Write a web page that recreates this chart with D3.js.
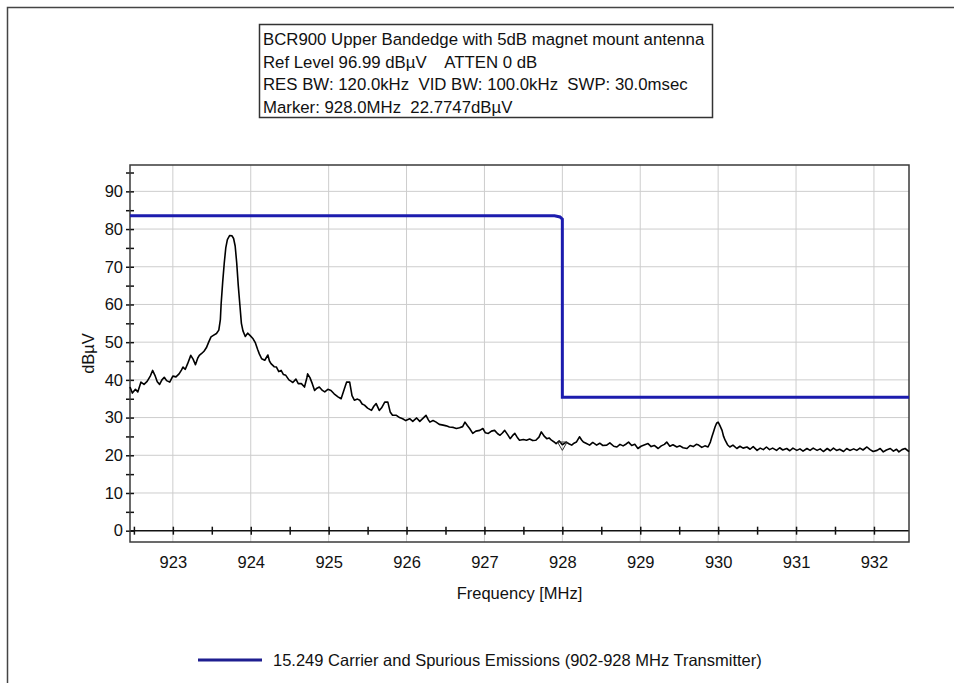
<!DOCTYPE html>
<html>
<head>
<meta charset="utf-8">
<script src="https://cdn.jsdelivr.net/npm/d3@7"></script>
<style>
  body { margin: 0; background: #fff; }
  svg { display: block; font-family: "Liberation Sans", Arial, sans-serif; }
</style>
</head>
<body>
<div id="chart"></div>
<script>
// title box lines
const titleLines = [
    'BCR900 Upper Bandedge with 5dB magnet mount antenna',
    'Ref Level 96.99 dB\u00b5V    ATTEN 0 dB',
    'RES BW: 120.0kHz  VID BW: 100.0kHz  SWP: 30.0msec',
    'Marker: 928.0MHz  22.7747dB\u00b5V'
];

const legendLabel = '15.249 Carrier and Spurious Emissions (902-928 MHz Transmitter)';

// axis ranges / ticks
const freqRange = [922.45, 932.45];
const levelRange = [-3, 96.99];
const xMajorTicks = [923, 924, 925, 926, 927, 928, 929, 930, 931, 932];
const xMinorTicks = [922.5, 923.5, 924.5, 925.5, 926.5, 927.5, 928.5, 929.5, 930.5, 931.5];
const yMajorTicks = [0, 10, 20, 30, 40, 50, 60, 70, 80, 90];
const yMinorTicks = [5, 15, 25, 35, 45, 55, 65, 75, 85, 95];

// limit line (15.249)
const limitFreq = [922.45, 927.9, 927.97, 928.0, 928.0, 932.45];
const limitLevel = [83.5, 83.5, 83.2, 82.6, 35.4, 35.4];

// marker
const markerFreq = 928.0;
const markerLevel = 22.7747;

// measured trace
const freqMHz = [
    922.45, 922.48, 922.52, 922.55, 922.59, 922.63, 922.67, 922.71, 922.74, 922.77,
    922.80, 922.83, 922.86, 922.89, 922.92, 922.96, 923.00, 923.04, 923.08, 923.11,
    923.13, 923.16, 923.19, 923.23, 923.26, 923.29, 923.32, 923.34, 923.37, 923.40,
    923.43, 923.46, 923.49, 923.52, 923.56, 923.59, 923.61, 923.62, 923.64, 923.66,
    923.68, 923.70, 923.73, 923.76, 923.78, 923.80, 923.82, 923.84, 923.86, 923.88,
    923.90, 923.93, 923.96, 923.99, 924.03, 924.06, 924.09, 924.11, 924.14, 924.18,
    924.22, 924.24, 924.26, 924.30, 924.33, 924.36, 924.39, 924.42, 924.45, 924.49,
    924.52, 924.54, 924.58, 924.61, 924.65, 924.69, 924.72, 924.73, 924.76, 924.79,
    924.82, 924.85, 924.88, 924.92, 924.95, 924.99, 925.03, 925.07, 925.12, 925.16,
    925.20, 925.23, 925.27, 925.30, 925.33, 925.37, 925.40, 925.43, 925.46, 925.50,
    925.55, 925.58, 925.61, 925.65, 925.68, 925.72, 925.76, 925.79, 925.82, 925.87,
    925.91, 925.95, 925.99, 926.04, 926.08, 926.13, 926.17, 926.21, 926.25, 926.28,
    926.30, 926.34, 926.38, 926.42, 926.47, 926.51, 926.55, 926.60, 926.64, 926.68,
    926.72, 926.75, 926.78, 926.81, 926.85, 926.89, 926.94, 926.98, 927.01, 927.05,
    927.09, 927.13, 927.17, 927.20, 927.23, 927.26, 927.30, 927.33, 927.36, 927.39,
    927.42, 927.45, 927.50, 927.54, 927.58, 927.62, 927.66, 927.70, 927.73, 927.77,
    927.80, 927.83, 927.86, 927.89, 927.92, 927.96, 928.00, 928.05, 928.09, 928.12,
    928.15, 928.18, 928.22, 928.25, 928.27, 928.31, 928.35, 928.39, 928.44, 928.48,
    928.52, 928.57, 928.61, 928.66, 928.70, 928.74, 928.78, 928.82, 928.85, 928.89,
    928.93, 928.97, 929.01, 929.05, 929.10, 929.14, 929.18, 929.23, 929.27, 929.31,
    929.34, 929.38, 929.42, 929.47, 929.51, 929.55, 929.60, 929.64, 929.68, 929.72,
    929.75, 929.79, 929.83, 929.87, 929.90, 929.92, 929.94, 929.96, 929.98, 930.00,
    930.02, 930.05, 930.07, 930.09, 930.12, 930.15, 930.19, 930.24, 930.28, 930.32,
    930.37, 930.41, 930.45, 930.50, 930.54, 930.58, 930.62, 930.66, 930.70, 930.75,
    930.79, 930.83, 930.88, 930.92, 930.96, 931.01, 931.05, 931.09, 931.14, 931.18,
    931.22, 931.27, 931.31, 931.35, 931.40, 931.44, 931.48, 931.52, 931.56, 931.61,
    931.65, 931.69, 931.74, 931.78, 931.82, 931.86, 931.91, 931.95, 931.99, 932.04,
    932.08, 932.12, 932.16, 932.21, 932.25, 932.29, 932.32, 932.36, 932.40, 932.45
];
const levelDbuV = [
    38.1, 36.5, 37.5, 36.8, 39.4, 38.8, 39.6, 41.0, 42.5, 41.2,
    39.5, 38.8, 40.0, 40.7, 39.8, 39.4, 41.0, 40.8, 41.6, 42.6,
    43.4, 42.8, 44.3, 46.5, 45.5, 44.0, 45.8, 46.5, 47.0, 47.6,
    48.5, 50.0, 51.4, 51.8, 52.3, 53.2, 56.0, 60.2, 66.0, 71.0,
    75.1, 77.2, 78.3, 78.2, 77.5, 75.5, 71.0, 65.0, 60.0, 55.0,
    53.0, 51.5, 52.4, 51.8, 50.9, 49.8, 48.0, 46.9, 45.6, 45.2,
    46.6, 45.0, 44.3, 43.5, 43.4, 42.2, 42.5, 41.4, 41.2, 40.0,
    39.6, 39.3, 40.2, 39.0, 39.0, 38.1, 40.5, 41.6, 40.6, 39.0,
    37.2, 37.8, 38.1, 37.2, 36.8, 37.5, 37.2, 36.3, 35.5, 35.0,
    37.5, 39.4, 39.4, 35.8, 34.6, 34.9, 34.6, 33.6, 33.3, 32.5,
    31.9, 33.0, 33.7, 31.9, 32.6, 34.1, 34.1, 31.5, 30.6, 30.6,
    30.0, 29.7, 29.2, 29.7, 29.0, 29.9, 29.0, 29.8, 30.6, 29.4,
    28.8, 29.2, 28.8, 28.2, 28.0, 27.8, 27.5, 27.4, 27.1, 27.3,
    27.6, 28.8, 27.9, 27.1, 25.8, 26.4, 26.6, 27.1, 26.0, 25.8,
    26.4, 26.6, 25.7, 25.3, 25.9, 26.6, 25.4, 24.4, 25.2, 25.8,
    24.8, 24.0, 24.2, 24.0, 24.3, 23.9, 24.0, 24.8, 26.2, 25.0,
    24.4, 24.6, 24.0, 23.6, 23.1, 23.8, 22.8, 23.5, 23.0, 22.7,
    23.2, 23.5, 24.9, 24.0, 23.5, 23.1, 22.7, 23.4, 22.7, 23.2,
    22.6, 22.7, 23.3, 22.4, 22.2, 22.9, 22.5, 23.0, 23.5, 22.6,
    22.9, 21.8, 22.4, 22.7, 23.1, 22.3, 22.6, 21.8, 22.5, 22.9,
    23.5, 22.4, 22.8, 22.2, 22.5, 22.0, 21.8, 22.6, 22.3, 22.9,
    22.7, 22.1, 22.5, 22.2, 23.5, 24.9, 26.2, 27.5, 28.5, 28.8,
    28.0, 26.6, 25.0, 24.0, 22.8, 22.2, 22.7, 21.8, 22.4, 21.9,
    22.2, 21.6, 22.3, 21.3, 21.9, 21.5, 22.2, 21.5, 21.9, 21.3,
    22.0, 21.4, 21.8, 21.2, 21.9, 21.3, 21.7, 21.1, 21.8, 21.3,
    21.9, 21.3, 21.7, 21.0, 21.8, 21.2, 21.9, 21.3, 21.6, 21.0,
    21.8, 21.3, 21.7, 21.3, 21.9, 21.4, 22.2, 21.5, 21.0, 21.3,
    21.8, 20.9, 21.4, 21.8, 21.1, 21.6, 20.9, 21.5, 21.8, 21.0
];

const width = 954;
const height = 683;
const margin = { top: 165, right: 45, bottom: 141, left: 130 };

const limitColor = '#1c1cae';
const gridColor = '#cdcdcd';
const frameColor = '#3a3a3a';

const svg = d3.select('#chart').append('svg')
    .attr('width', width)
    .attr('height', height);

// outer frame of the window
svg.append('rect')
    .attr('x', 7.5).attr('y', 7.5)
    .attr('width', width + 20).attr('height', height + 20)
    .attr('fill', 'none')
    .attr('stroke', '#444')
    .attr('stroke-width', 1.5);

// title box
const titleBox = svg.append('g').attr('transform', 'translate(259.5, 24.5)');
titleBox.append('rect')
    .attr('width', 453).attr('height', 93)
    .attr('fill', '#fff')
    .attr('stroke', '#333')
    .attr('stroke-width', 1.5);
titleBox.selectAll('text')
    .data(titleLines)
    .join('text')
    .attr('x', 3.5)
    .attr('y', (d, i) => 20.5 + i * 22.6)
    .attr('font-size', 16.8)
    .attr('fill', '#111')
    .style('white-space', 'pre')
    .text(d => d);

const scaleX = d3.scaleLinear().domain(freqRange).range([margin.left, width - margin.right]);
const scaleY = d3.scaleLinear().domain(levelRange).range([height - margin.bottom, margin.top]);

// grid
const grid = svg.append('g').classed('grid', true);
grid.selectAll('line.v')
    .data(xMajorTicks)
    .join('line')
    .classed('v', true)
    .attr('x1', d => scaleX(d)).attr('x2', d => scaleX(d))
    .attr('y1', margin.top).attr('y2', height - margin.bottom)
    .attr('stroke', gridColor);
grid.selectAll('line.h')
    .data(yMajorTicks.filter(d => d > 0))
    .join('line')
    .classed('h', true)
    .attr('x1', margin.left).attr('x2', width - margin.right)
    .attr('y1', d => scaleY(d)).attr('y2', d => scaleY(d))
    .attr('stroke', gridColor);

// x axis sits on the 0 dBuV line, labels go below the frame
const y0 = scaleY(0);
const axisXGroup = svg.append('g')
    .classed('axis axisX', true)
    .attr('transform', `translate(0, ${y0})`);
axisXGroup.append('g').call(d3.axisBottom(scaleX).tickValues(xMajorTicks).tickSize(0).tickFormat(d3.format('d')));
axisXGroup.append('g').call(d3.axisBottom(scaleX).tickValues(xMinorTicks).tickSize(0).tickFormat(''));
axisXGroup.selectAll('.domain').remove();
axisXGroup.selectAll('.tick line').attr('y1', -4).attr('y2', 4).attr('stroke', '#111').attr('stroke-width', 1.5);
axisXGroup.selectAll('.tick text')
    .attr('y', (height - margin.bottom) - y0 + 14)
    .attr('font-size', 16.5)
    .attr('fill', '#111');
axisXGroup.append('line')
    .attr('x1', margin.left).attr('x2', width - margin.right)
    .attr('stroke', '#111').attr('stroke-width', 1.5);

const axisYGroup = svg.append('g')
    .classed('axis axisY', true)
    .attr('transform', `translate(${margin.left}, 0)`);
axisYGroup.append('g').call(d3.axisLeft(scaleY).tickValues(yMajorTicks).tickSize(0).tickPadding(7));
axisYGroup.append('g').call(d3.axisLeft(scaleY).tickValues(yMinorTicks).tickSize(0).tickFormat(''));
axisYGroup.selectAll('.domain').remove();
axisYGroup.selectAll('.tick line').attr('x1', -4).attr('x2', 4).attr('stroke', '#111').attr('stroke-width', 1.5);
axisYGroup.selectAll('.tick text')
    .attr('font-size', 16.5)
    .attr('fill', '#111');

// plot frame
svg.append('rect')
    .attr('x', margin.left).attr('y', margin.top)
    .attr('width', width - margin.left - margin.right)
    .attr('height', height - margin.top - margin.bottom)
    .attr('fill', 'none')
    .attr('stroke', frameColor)
    .attr('stroke-width', 1.5);

// axis titles
svg.append('text')
    .attr('x', (margin.left + width - margin.right) / 2)
    .attr('y', 599)
    .attr('text-anchor', 'middle')
    .attr('font-size', 16.5)
    .attr('fill', '#111')
    .text('Frequency [MHz]');
svg.append('text')
    .attr('transform', `translate(94, ${(margin.top + height - margin.bottom) / 2}) rotate(-90)`)
    .attr('text-anchor', 'middle')
    .attr('font-size', 16.5)
    .attr('fill', '#111')
    .text('dB\u00b5V');

// lines
const line = d3.line()
    .x(d => scaleX(d[0]))
    .y(d => scaleY(d[1]));

svg.append('path')
    .datum(d3.zip(limitFreq, limitLevel))
    .attr('d', line)
    .attr('fill', 'none')
    .attr('stroke', limitColor)
    .attr('stroke-width', 3);

svg.append('path')
    .datum(d3.zip(freqMHz, levelDbuV))
    .attr('d', line)
    .attr('fill', 'none')
    .attr('stroke', '#000')
    .attr('stroke-width', 1.6)
    .attr('stroke-linejoin', 'round');

// marker
svg.append('path')
    .attr('d', d3.symbol(d3.symbolTriangle, 40))
    .attr('transform', `translate(${scaleX(markerFreq)}, ${scaleY(markerLevel)}) rotate(180)`)
    .attr('fill', 'none')
    .attr('stroke', '#333')
    .attr('stroke-width', 1);

// legend
const legend = svg.append('g').attr('transform', 'translate(198, 660)');
legend.append('line')
    .attr('x1', 0).attr('x2', 64)
    .attr('stroke', '#1e1e90')
    .attr('stroke-width', 3);
legend.append('text')
    .attr('x', 75)
    .attr('y', 6)
    .attr('font-size', 16.5)
    .attr('fill', '#111')
    .text(legendLabel);
</script>
</body>
</html>
